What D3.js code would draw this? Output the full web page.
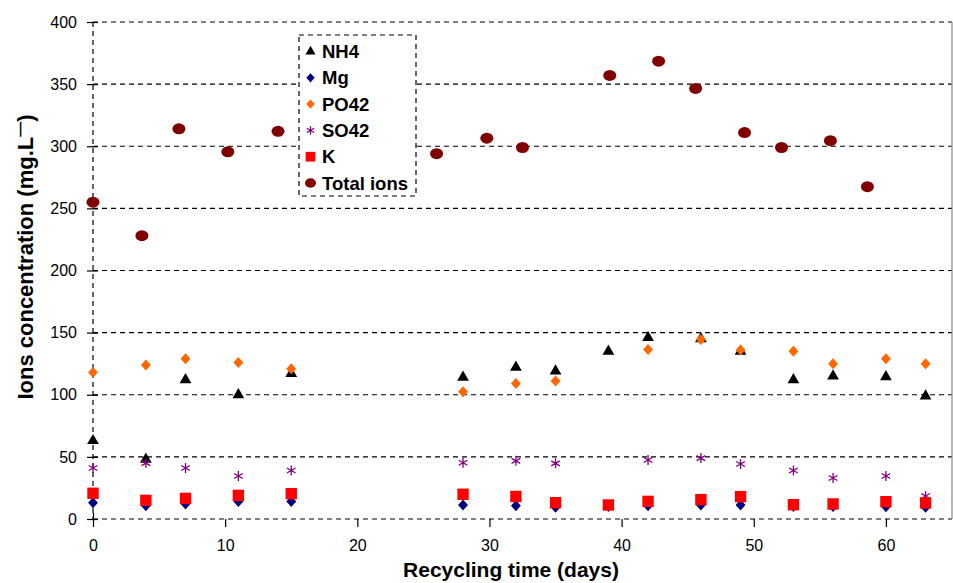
<!DOCTYPE html>
<html>
<head>
<meta charset="utf-8">
<script src="https://cdn.jsdelivr.net/npm/d3@7"></script>
<style>
  body { margin: 0; background: #fff; }
  text { font-family: "Liberation Sans", Arial, sans-serif; }
</style>
</head>
<body>
<svg width="953" height="583"></svg>
<script>
// recycling days for the single ions
var days = [0, 4, 7, 11, 15, 28, 32, 35, 39, 42, 46, 49, 53, 56, 60, 63];
var nh4 = [63, 48, 112, 100, 117, 114, 122, 119, 135, 146, 145, 135, 112, 115, 114.5, 99];
var mg = [13, 10.7, 12, 14, 14, 11.3, 10.7, 9.4, 10, 10.7, 11.3, 11.3, 10, 10, 9.9, 9.4];
var po42 = [118, 124, 129, 126, 121, 102.5, 109, 111, null, 136.5, 144.5, 136, 135, 125, 129, 125];
var so42 = [41, 45, 41, 34.6, 39, 45.3, 46.8, 44.8, null, 47.5, 49, 44.3, 39, 33, 34.6, 18.5];
var kIon = [20.7, 15, 16.6, 19, 20.4, 19.9, 18.1, 13.1, 11.3, 14.2, 15.6, 18, 11.5, 12.1, 13.9, 12.9];

// total ions were plotted at their own x positions
var totalDays = [0, 3.7, 6.5, 10.2, 14, 26, 29.8, 32.5, 39.1, 42.8, 45.6, 49.3, 52.1, 55.8, 58.6];
var totalIons = [255, 228, 314, 295.5, 312, 294, 306.5, 299, 357, 368.5, 346.5, 311, 299, 304.5, 267.5];

var xTicks = [0, 10, 20, 30, 40, 50, 60];
var yTicks = [0, 50, 100, 150, 200, 250, 300, 350, 400];

var svg = d3.select("svg"),
	plotL = 93, plotR = 952, plotT = 22, plotB = 519;

var x = d3.scaleLinear().domain([0, 65]).range([plotL, plotR]);
var y = d3.scaleLinear().domain([0, 400]).range([plotB, plotT]);

// horizontal dashed grid
svg.append("g").selectAll("line")
	.data(yTicks)
	.enter().append("line")
	.attr("x1", plotL).attr("x2", plotR)
	.attr("y1", function(d) { return y(d); })
	.attr("y2", function(d) { return y(d); })
	.attr("stroke", "#000").attr("stroke-width", 1.2)
	.attr("stroke-dasharray", "5,4");

// right border
svg.append("line")
	.attr("x1", plotR).attr("x2", plotR).attr("y1", plotT).attr("y2", plotB)
	.attr("stroke", "#888").attr("stroke-width", 1.2);

// left dashed axis line
svg.append("line")
	.attr("x1", plotL).attr("x2", plotL).attr("y1", plotT).attr("y2", plotB)
	.attr("stroke", "#000").attr("stroke-width", 1.2)
	.attr("stroke-dasharray", "5,4");

// y axis ticks + labels
var yAxis = d3.axisLeft(y).tickValues(yTicks).tickSizeInner(6).tickSizeOuter(0).tickPadding(10);
var gy = svg.append("g").attr("transform", "translate(" + plotL + ",0)").call(yAxis);
gy.select(".domain").remove();
gy.selectAll(".tick line").attr("x2", 5).attr("x1", -6).attr("stroke-width", 1.2);
gy.selectAll("text").attr("font-size", 16).attr("fill", "#000")
	.attr("font-family", "'Liberation Sans', Arial, sans-serif");

// x axis ticks + labels
var xAxis = d3.axisBottom(x).tickValues(xTicks).tickSizeInner(8).tickSizeOuter(0).tickPadding(13);
var gx = svg.append("g").attr("transform", "translate(0," + plotB + ")").call(xAxis);
gx.select(".domain").remove();
gx.selectAll(".tick line").attr("stroke-width", 1.2);
gx.selectAll(".tick line").filter(function(d) { return d === 0; }).attr("y1", -6);
gx.selectAll("text").attr("font-size", 16).attr("fill", "#000")
	.attr("font-family", "'Liberation Sans', Arial, sans-serif");

// marker shapes
function asterisk(r) {
	var a = r * 0.87, b = r * 0.5;
	return "M0," + (-r) + "L0," + r +
		"M" + (-a) + "," + (-b) + "L" + a + "," + b +
		"M" + (-a) + "," + b + "L" + a + "," + (-b);
}
// fatter diamond than d3.symbolDiamond
var fatDiamond = {
	draw: function(ctx, size) {
		var h = Math.sqrt(size) * 0.74, w = h * 0.9;
		ctx.moveTo(0, -h); ctx.lineTo(w, 0); ctx.lineTo(0, h); ctx.lineTo(-w, 0); ctx.closePath();
	}
};

var series = [
	{ name: "NH4", vals: nh4, color: "#000000", kind: "tri" },
	{ name: "Mg", vals: mg, color: "#000080", kind: "dia" },
	{ name: "PO42", vals: po42, color: "#FF6600", kind: "dia" },
	{ name: "SO42", vals: so42, color: "#800080", kind: "ast" },
	{ name: "K", vals: kIon, color: "#FF0000", kind: "sq" }
];

function drawMark(sel, kind, color, scale) {
	scale = scale || 1;
	if (kind === "tri") sel.append("path").attr("d", d3.symbol().type(d3.symbolTriangle).size(60 * scale * scale)).attr("fill", color);
	else if (kind === "dia") sel.append("path").attr("d", d3.symbol().type(fatDiamond).size(55 * scale * scale)).attr("fill", color);
	else if (kind === "sq") sel.append("path").attr("d", d3.symbol().type(d3.symbolSquare).size(130 * scale * scale)).attr("fill", color);
	else if (kind === "ast") sel.append("path").attr("d", asterisk(5 * scale)).attr("stroke", color).attr("stroke-width", 1.3).attr("fill", "none");
	else if (kind === "circ") sel.append("ellipse").attr("rx", 6.5 * scale).attr("ry", 5.5 * scale).attr("fill", color);
}

series.forEach(function(s) {
	var pts = days.map(function(d, i) { return { day: d, v: s.vals[i] }; })
		.filter(function(p) { return p.v != null; });
	svg.append("g").selectAll("g")
		.data(pts)
		.enter().append("g")
		.attr("transform", function(p) { return "translate(" + x(p.day) + "," + y(p.v) + ")"; })
		.each(function() { drawMark(d3.select(this), s.kind, s.color); });
});

svg.append("g").selectAll("ellipse")
	.data(totalDays.map(function(d, i) { return { day: d, v: totalIons[i] }; }))
	.enter().append("ellipse")
	.attr("cx", function(p) { return x(p.day); })
	.attr("cy", function(p) { return y(p.v); })
	.attr("rx", 6.5).attr("ry", 5.5)
	.attr("fill", "#800000");

// legend
var legendItems = series.concat([{ name: "Total ions", color: "#800000", kind: "circ" }]);
var lg = svg.append("g");
lg.append("rect")
	.attr("x", 299).attr("y", 35).attr("width", 117).attr("height", 161)
	.attr("fill", "#fff").attr("stroke", "#000").attr("stroke-width", 1.2)
	.attr("stroke-dasharray", "5,4");
legendItems.forEach(function(s, i) {
	var cy = 51.5 + i * 26.3;
	var m = lg.append("g").attr("transform", "translate(310.5," + cy + ")");
	drawMark(m, s.kind, s.color, 0.85);
	lg.append("text").attr("x", 322).attr("y", cy + 6.5)
		.style("font-size", "18.5px").style("font-weight", "bold")
		.text(s.name);
});

// axis titles
svg.append("text")
	.attr("x", 511).attr("y", 577)
	.attr("text-anchor", "middle")
	.style("font-size", "21px").style("font-weight", "bold")
	.text("Recycling time (days)");

var yl = svg.append("text")
	.attr("transform", "translate(33,257) rotate(-90)")
	.attr("text-anchor", "middle")
	.style("font-size", "22px").style("font-weight", "bold");
yl.append("tspan").text("Ions concentration (mg.L");
yl.append("tspan").attr("dy", -8).style("font-size", "15px").text("\u2014");
yl.append("tspan").attr("dy", 8).text(")");
</script>
</body>
</html>
